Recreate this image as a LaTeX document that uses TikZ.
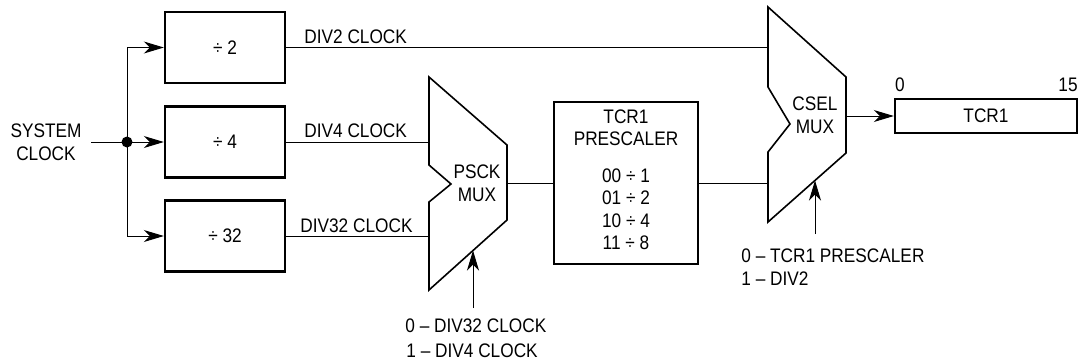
\documentclass[tikz,border=0pt]{standalone}
\usepackage{fontspec}
\setmainfont[FakeStretch=0.88]{Liberation Sans}
\usetikzlibrary{arrows.meta}
\begin{document}
\begin{tikzpicture}[x=0.5pt,y=-0.5pt,
  every node/.style={font=\fontsize{9.8}{11.5}\selectfont, inner sep=0pt},
  blk/.style={draw, line width=1.2pt, minimum width=60pt, minimum height=35.5pt},
  wire/.style={line width=0.5pt},
  arr/.style={wire, -{Stealth[length=10pt,width=6pt,inset=3pt]}},
  muxline/.style={line width=0.8pt, line join=miter},
  lbl/.style={anchor=base west}]
\useasboundingbox (0,0) rectangle (1078,361);

% divider boxes
\node[blk] (d2) at (225,47.5) {÷ 2};
\node[blk] (d4) at (225,142) {÷ 4};
\node[blk] (d32) at (225,236) {÷ 32};

% system clock
\node[align=center] (sys) at (46,142) {SYSTEM\\CLOCK};
\coordinate (dot) at (127,142);
\coordinate (dtop) at (127,47.5);
\coordinate (dbot) at (127,236);
\draw[wire] (91,142) -- (dot);
\fill (dot) circle (5.5);
\draw[arr] (dot) -- (d4.west);
\draw[wire] (dot) -- (dtop);
\draw[wire] (dot) -- (dbot);
\draw[arr] (dtop) -- (d2.west);
\draw[arr] (dbot) -- (d32.west);

% PSCK mux
\draw[muxline] (429,77) -- (507,145) -- (507,220) -- (429,290) -- (429,202) -- (451,184) -- (429,165) -- cycle;
\coordinate (pin4) at (429,142);
\coordinate (pin32) at (429,236);
\coordinate (pout) at (507,183);
\coordinate (psel) at (473,250.5);
\coordinate (pselb) at (473,308);
\node[align=center] (pmux) at (477,183.5) {PSCK\\MUX};

% prescaler box
\node[draw, line width=1.2pt, minimum width=72pt, minimum height=81pt] (pre) at (626,183) {};
\node (pre1) at (626,117) {TCR1};
\node (pre2) at (626,139) {PRESCALER};
\node (pre3) at (626,175.5) {00 ÷ 1};
\node (pre4) at (626,198) {01 ÷ 2};
\node (pre5) at (626,220.5) {10 ÷ 4};
\node (pre6) at (626,243) {11 ÷ 8};

% CSEL mux
\draw[muxline] (768,7) -- (846,77) -- (846,153) -- (768,222) -- (768,152) -- (790,124) -- (768,87) -- cycle;
\coordinate (cin2) at (768,47.5);
\coordinate (cinp) at (768,183);
\coordinate (cout) at (846,116);
\coordinate (csel) at (815,180.5);
\coordinate (cselb) at (815,234);
\node[align=center] (cmux) at (815,115) {CSEL\\MUX};

% TCR1 register
\node[draw, line width=1.2pt, minimum width=91pt, minimum height=17pt] (tcr) at (986,116) {TCR1};
\node (b0) at (900,85) {0};
\node[anchor=east] (b15) at (1078,85) {15};

% wires
\draw[wire] (d2.east) -- (cin2);
\draw[wire] (d4.east) -- (pin4);
\draw[wire] (d32.east) -- (pin32);
\draw[wire] (pout) -- (pre.west);
\draw[wire] (pre.east) -- (cinp);
\draw[arr] (cout) -- (tcr.west);
\draw[arr] (pselb) -- (psel);
\draw[arr] (cselb) -- (csel);

% labels
\node[lbl] (l2) at (304,43) {DIV2 CLOCK};
\node[lbl] (l4) at (304,137.5) {DIV4 CLOCK};
\node[lbl] (l32) at (300,232) {DIV32 CLOCK};
\node[lbl] (ps0) at (405,332) {0 – DIV32 CLOCK};
\node[lbl] (ps1) at (406,357) {1 – DIV4 CLOCK};
\node[lbl] (cs0) at (741,262) {0 – TCR1 PRESCALER};
\node[lbl] (cs1) at (741,285) {1 – DIV2};
\end{tikzpicture}
\end{document}
